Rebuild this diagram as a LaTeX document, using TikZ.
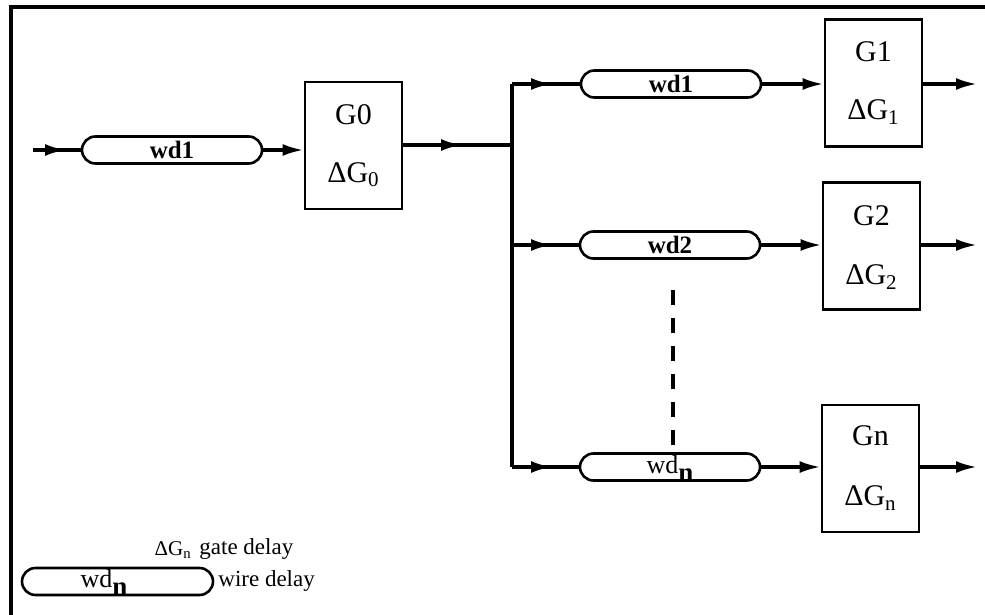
\documentclass[tikz,border=0pt]{standalone}
\usepackage{fontspec}
\setmainfont{Liberation Serif}
\usetikzlibrary{arrows.meta,shapes.misc}
\begin{document}
\begin{tikzpicture}[x=0.5pt,y=-0.5pt,
  wire/.style={line width=1.6pt},
  tip/.style={-{Latex[length=10.5pt,width=6pt]}},
  wdelay/.style={draw,line width=1.3pt,rounded rectangle,minimum width=90pt,
    minimum height=13.5pt,inner sep=0pt,font=\bfseries\fontsize{12.5}{12.5}\selectfont},
  gatebox/.style={draw,line width=1.4pt,minimum width=48.5pt,minimum height=63.5pt,inner sep=0pt},
  gtext/.style={font=\fontsize{15}{15}\selectfont,inner sep=0pt},
  ltext/.style={font=\fontsize{11.5}{12}\selectfont,inner sep=0pt,anchor=west},
  dots/.style={wire,dash pattern=on 7.5pt off 6.5pt,dash phase=7.5pt},
]
\useasboundingbox (0,0) rectangle (985,615);
\fill[white] (0,0) rectangle (985,615);

% frame edges
\draw[line width=2.2pt] (11,615) -- (11,7) -- (985,7);

% input stage
\coordinate (in) at (33,150);
\coordinate (inm) at (66,150);
\node[wdelay] (w0) at (172,150) {wd1};
\node[gatebox] (g0) at (353.5,145.5) {};
\node[gtext] (g0a) at (353.5,115) {G0};
\node[gtext] (g0b) at (353.5,175) {ΔG\textsubscript{0}};
\draw[wire] (in) -- (w0.west);
\draw[wire,tip] (in) -- (inm);
\draw[wire,tip] (w0.east) -- (w0.east -| g0.west);

% fan-out bus
\coordinate (g0m) at (462,145);
\coordinate (bj) at (512,145);
\coordinate (b1) at (512,84);
\coordinate (b2) at (512,245);
\coordinate (bn) at (512,467);
\draw[wire] (g0.east |- bj) -- (bj);
\draw[wire,tip] (g0.east |- g0m) -- (g0m);
\draw[wire] (b1) -- (bn);

% branch 1
\coordinate (m1) at (552,84);
\node[wdelay] (w1) at (671,84) {wd1};
\node[gatebox] (g1) at (873.5,83) {};
\node[gtext] (g1a) at (873.5,52) {G1};
\node[gtext] (g1b) at (873.5,112) {ΔG\textsubscript{1}};
\coordinate (o1) at (977,84);
\draw[wire] (b1) -- (w1.west);
\draw[wire,tip] (b1) -- (m1);
\draw[wire,tip] (w1.east) -- (w1.east -| g1.west);
\draw[wire,tip] (g1.east |- o1) -- (o1);

% branch 2
\coordinate (m2) at (552,245);
\node[wdelay] (w2) at (670,245) {wd2};
\node[gatebox] (g2) at (871.5,246) {};
\node[gtext] (g2a) at (871.5,216) {G2};
\node[gtext] (g2b) at (871.5,277) {ΔG\textsubscript{2}};
\coordinate (o2) at (977,245);
\draw[wire] (b2) -- (w2.west);
\draw[wire,tip] (b2) -- (m2);
\draw[wire,tip] (w2.east) -- (w2.east -| g2.west);
\draw[wire,tip] (g2.east |- o2) -- (o2);

% branch n
\coordinate (mn) at (552,467);
\node[wdelay] (wn) at (670,467) {};
\node[inner sep=0pt] (wnt) at (670,468)
  {{\fontsize{13}{13}\selectfont wd}\raisebox{-4pt}{\fontsize{13.5}{13.5}\selectfont\bfseries n}};
\node[gatebox] (gn) at (870.5,468.5) {};
\node[gtext] (gna) at (870.5,436) {Gn};
\node[gtext] (gnb) at (870.5,498) {ΔG\textsubscript{n}};
\coordinate (on) at (977,467);
\draw[wire] (bn) -- (wn.west);
\draw[wire,tip] (bn) -- (mn);
\draw[wire,tip] (wn.east) -- (wn.east -| gn.west);
\draw[wire,tip] (gn.east |- on) -- (on);

% omitted branches
\coordinate (d1) at (673,277);
\coordinate (d2) at (673,456);
\draw[dots] (d1) -- (d2);

% legend
\node[inner sep=0pt,anchor=east,font=\fontsize{10.5}{10.5}\selectfont] (lg) at (192,550) {ΔG\textsubscript{n}};
\node[ltext] (lgt) at (199,549) {gate delay};
\node[wdelay,minimum width=95.5pt] (lw) at (117.5,581.5) {};
\node[inner sep=0pt] (lwt) at (104,582)
  {{\fontsize{13}{13}\selectfont wd}\raisebox{-4pt}{\fontsize{13.5}{13.5}\selectfont\bfseries n}};
\node[ltext] (lwd) at (218,581) {wire delay};
\end{tikzpicture}
\end{document}
